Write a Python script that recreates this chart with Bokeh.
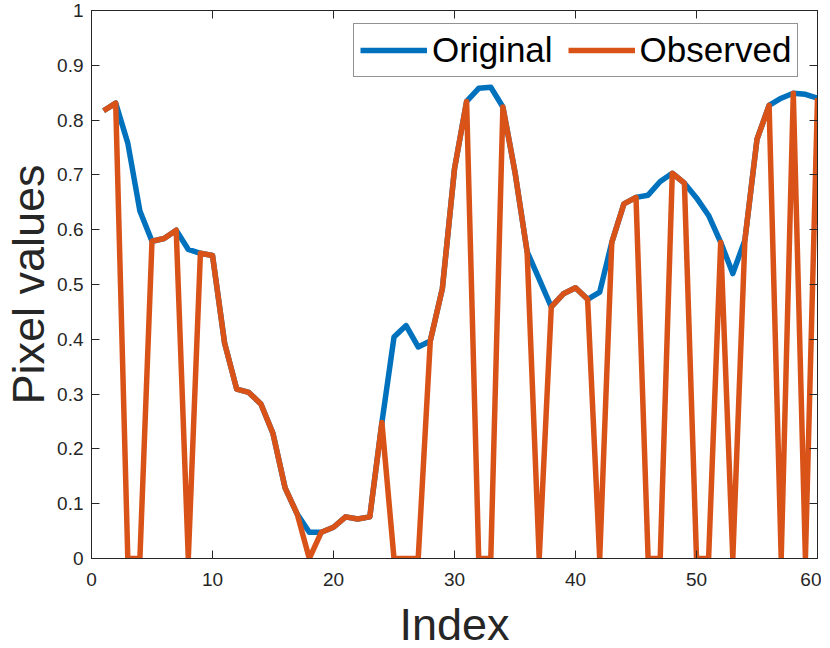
from bokeh.plotting import figure
from bokeh.models import (LinearAxis, FixedTicker, CustomJSTickFormatter, Legend,
                          LegendItem, Range1d)
from bokeh.embed import file_html
from bokeh.resources import INLINE

index = list(range(1, 61))
original = [0.817, 0.831, 0.758, 0.634, 0.579, 0.584, 0.599, 0.564, 0.557, 0.553,
            0.393, 0.309, 0.303, 0.282, 0.228, 0.129, 0.081, 0.048, 0.048, 0.057,
            0.076, 0.072, 0.076, 0.248, 0.404, 0.425, 0.386, 0.397, 0.493, 0.711,
            0.834, 0.858, 0.860, 0.824, 0.705, 0.560, 0.510, 0.459, 0.483, 0.494,
            0.473, 0.486, 0.577, 0.647, 0.659, 0.663, 0.688, 0.703, 0.685, 0.658,
            0.626, 0.577, 0.520, 0.581, 0.765, 0.827, 0.840, 0.849, 0.847, 0.840]
observed = [0.817, 0.831, 0.0, 0.0, 0.579, 0.584, 0.599, 0.0, 0.557, 0.553,
            0.393, 0.309, 0.303, 0.282, 0.228, 0.129, 0.081, 0.0, 0.048, 0.057,
            0.076, 0.072, 0.076, 0.248, 0.0, 0.0, 0.0, 0.397, 0.493, 0.711,
            0.834, 0.0, 0.0, 0.824, 0.705, 0.560, 0.0, 0.459, 0.483, 0.494,
            0.473, 0.0, 0.577, 0.647, 0.659, 0.0, 0.0, 0.703, 0.685, 0.0,
            0.0, 0.577, 0.0, 0.581, 0.765, 0.827, 0.0, 0.849, 0.0, 0.840]
x_ticks = [0, 10, 20, 30, 40, 50, 60]
y_ticks = [0, 0.1, 0.2, 0.3, 0.4, 0.5, 0.6, 0.7, 0.8, 0.9, 1.0]

AX = "#262626"
FONT = "Liberation Sans"

p = figure(frame_width=726, frame_height=548, x_range=Range1d(0, 60), y_range=Range1d(0, 1),
           output_backend="svg", toolbar_location=None,
           min_border_left=84, min_border_right=4, min_border_top=10,
           x_axis_label="Index", y_axis_label="Pixel values")
p.grid.visible = False
p.outline_line_color = AX
p.background_fill_color = "white"

r1 = p.line(index, original, line_color="#0072BD", line_width=5.5, line_join="round")
r2 = p.line(index, observed, line_color="#D95319", line_width=5.5, line_join="round")

p.add_layout(LinearAxis(), "above")
p.add_layout(LinearAxis(), "right")

fmt = CustomJSTickFormatter(code="return Number(tick.toFixed(2)).toString();")
empty = CustomJSTickFormatter(code="return '';")

for ax in p.xaxis:
    ax.ticker = FixedTicker(ticks=x_ticks)
for ax in p.yaxis:
    ax.ticker = FixedTicker(ticks=y_ticks)

for ax in p.xaxis + p.yaxis:
    ax.major_tick_in = 8
    ax.major_tick_out = 0
    ax.minor_tick_line_color = None
    ax.axis_line_color = AX
    ax.major_tick_line_color = AX
    ax.major_label_text_color = AX
    ax.major_label_text_font = FONT
    ax.major_label_text_font_size = "19px"
    ax.axis_label_text_font = FONT
    ax.axis_label_text_font_size = "45px"
    ax.axis_label_text_font_style = "normal"
    ax.axis_label_text_color = AX

p.below[0].formatter = fmt
p.left[0].formatter = fmt
p.below[0].major_label_standoff = 14
p.left[0].major_label_standoff = 8
p.below[0].axis_label_standoff = 10
p.left[0].axis_label_standoff = 0
for ax in [p.above[0], p.right[0]]:
    ax.formatter = empty
    ax.major_label_standoff = 0
    ax.major_label_text_font_size = "0px"

legend = Legend(items=[LegendItem(label="Original", renderers=[r1]),
                       LegendItem(label="Observed", renderers=[r2])],
                orientation="horizontal", location=(262, 481),
                label_text_font=FONT, label_text_font_size="35px",
                label_text_color="black",
                glyph_width=67, glyph_height=30, label_standoff=5, spacing=15,
                padding=6, border_line_color=AX, border_line_width=1,
                background_fill_alpha=1.0)
p.add_layout(legend)

open("out.html", "w").write(file_html(p, INLINE))
